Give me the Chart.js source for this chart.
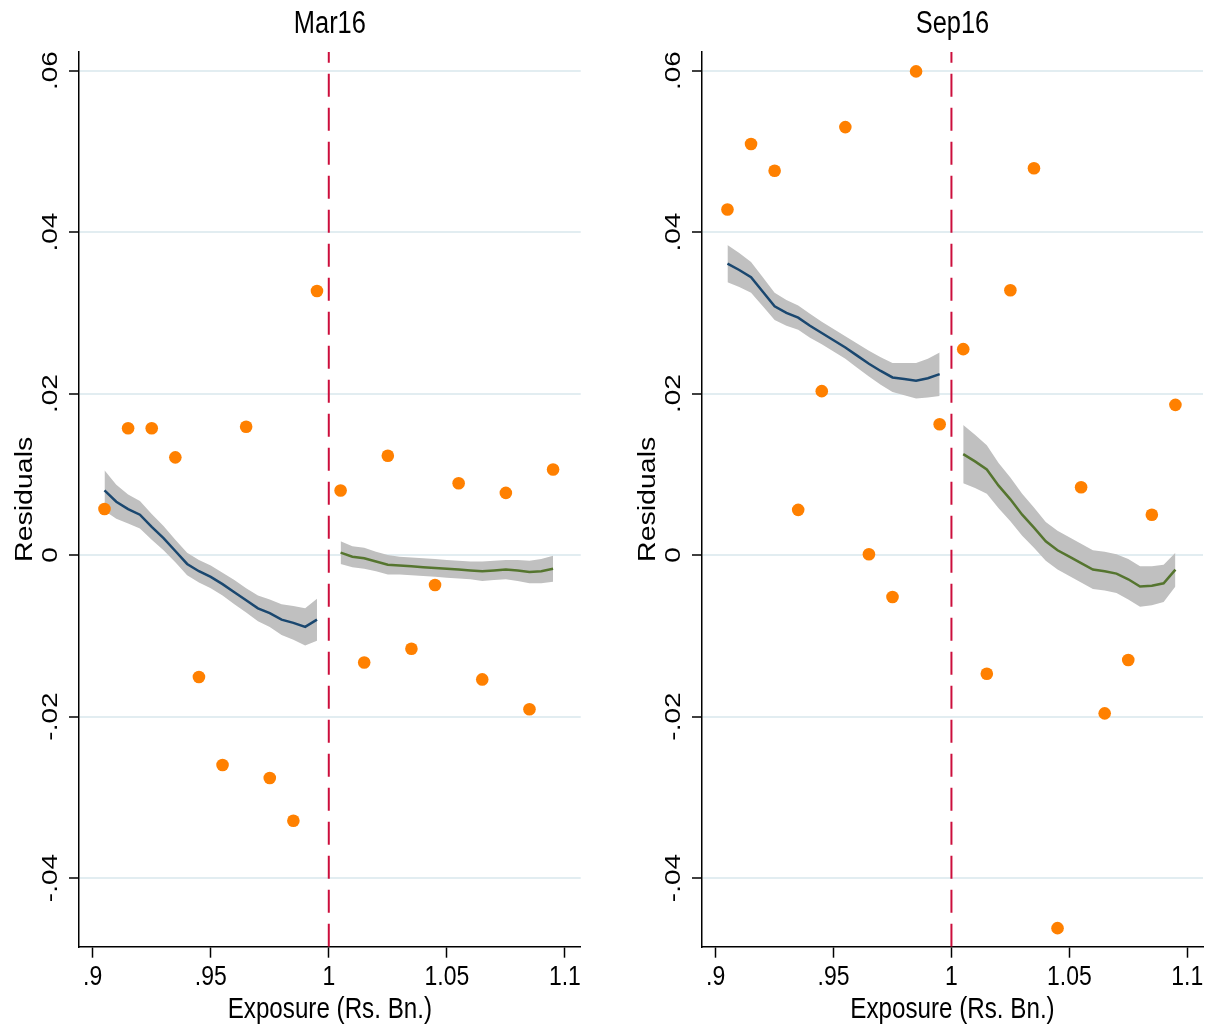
<!DOCTYPE html>
<html lang="en">
<head>
  <meta charset="UTF-8">
  <title>Residuals by Exposure</title>
  <script src="https://cdn.jsdelivr.net/npm/chart.js"></script>
  <style>
    body {
      margin: 0;
      background: #ffffff;
    }

    .panel {
      position: absolute;
      top: 0;
    }
  </style>
</head>
<body>

  <canvas id="mar16" class="panel" width="606" height="1025" style="left:0"></canvas>
  <canvas id="sep16" class="panel" width="606" height="1025" style="left:606px"></canvas>

  <script>
    // axis ticks
    const xTicks = [0.9, 0.95, 1, 1.05, 1.1];
    const xTickLabels = ['.9', '.95', '1', '1.05', '1.1'];
    const yTicks = [-0.04, -0.02, 0, 0.02, 0.04, 0.06];
    const yTickLabels = ['-.04', '-.02', '0', '.02', '.04', '.06'];
    const xMin = 0.8942, xMax = 1.1067;
    const yMin = -0.0485, yMax = 0.0623;
    const cutoff = 1;

    // binned residuals
    const binX = [0.905, 0.915, 0.925, 0.935, 0.945, 0.955, 0.965, 0.975, 0.985, 0.995,
                  1.005, 1.015, 1.025, 1.035, 1.045, 1.055, 1.065, 1.075, 1.085, 1.095];
    const mar16Resid = [0.0057, 0.0157, 0.0157, 0.0121, -0.0151, -0.0260, 0.0159, -0.0276, -0.0329, 0.0327,
                        0.0080, -0.0133, 0.0123, -0.0116, -0.0037, 0.0089, -0.0154, 0.0077, -0.0191, 0.0106];
    const sep16Resid = [0.0428, 0.0509, 0.0476, 0.0056, 0.0203, 0.0530, 0.0001, -0.0052, 0.0599, 0.0162,
                        0.0255, -0.0147, 0.0328, 0.0479, -0.0462, 0.0084, -0.0196, -0.0130, 0.0050, 0.0186];

    // local fits below / above cutoff
    const fitXBelow = [0.905, 0.910, 0.915, 0.920, 0.925, 0.930, 0.935, 0.940, 0.945, 0.950,
                       0.955, 0.960, 0.965, 0.970, 0.975, 0.980, 0.985, 0.990, 0.995];
    const fitXAbove = [1.005, 1.010, 1.015, 1.020, 1.025, 1.030, 1.035, 1.040, 1.045, 1.050,
                       1.055, 1.060, 1.065, 1.070, 1.075, 1.080, 1.085, 1.090, 1.095];

    const mar16FitBelow = [0.0080, 0.0066, 0.0057, 0.0050, 0.0035, 0.0021, 0.0005, -0.0011, -0.0020, -0.0027,
                           -0.0036, -0.0046, -0.0056, -0.0066, -0.0072, -0.0080, -0.0084, -0.0089, -0.0080];
    const mar16CiBelow = [0.0025, 0.0021, 0.0018, 0.0017, 0.0016, 0.0015, 0.0014, 0.0014, 0.0014, 0.0014,
                          0.0014, 0.0015, 0.0015, 0.0016, 0.0017, 0.0019, 0.0021, 0.0023, 0.0026];
    const mar16FitAbove = [0.0003, -0.0002, -0.0004, -0.0008, -0.0012, -0.0013, -0.0014, -0.0015, -0.0016, -0.0017,
                           -0.0018, -0.0019, -0.0020, -0.0019, -0.0018, -0.0019, -0.0021, -0.0020, -0.0017];
    const mar16CiAbove = [0.0014, 0.0013, 0.0013, 0.0012, 0.0012, 0.0011, 0.0011, 0.0011, 0.0011, 0.0011,
                          0.0011, 0.0011, 0.0012, 0.0012, 0.0012, 0.0013, 0.0014, 0.0015, 0.0016];

    const sep16FitBelow = [0.0361, 0.0353, 0.0344, 0.0326, 0.0308, 0.0300, 0.0294, 0.0284, 0.0275, 0.0266,
                           0.0257, 0.0247, 0.0237, 0.0228, 0.0220, 0.0218, 0.0216, 0.0219, 0.0224];
    const sep16CiBelow = [0.0023, 0.0021, 0.0019, 0.0018, 0.0017, 0.0016, 0.0015, 0.0015, 0.0014, 0.0014,
                          0.0014, 0.0015, 0.0016, 0.0017, 0.0018, 0.0020, 0.0022, 0.0024, 0.0027];
    const sep16FitAbove = [0.0125, 0.0116, 0.0106, 0.0086, 0.0069, 0.0050, 0.0034, 0.0017, 0.0006, -0.0002,
                           -0.0010, -0.0018, -0.0020, -0.0023, -0.0030, -0.0039, -0.0038, -0.0035, -0.0018];
    const sep16CiAbove = [0.0036, 0.0033, 0.0030, 0.0028, 0.0027, 0.0026, 0.0025, 0.0024, 0.0024, 0.0024,
                          0.0024, 0.0024, 0.0024, 0.0024, 0.0025, 0.0025, 0.0024, 0.0023, 0.0021];

    const ORANGE = '#ff8000';
    const NAVY = '#1a476f';
    const GREEN = '#55752f';
    const BAND = '#c0c0c0';
    const CUTLINE = '#cc0e3c';
    const FONT = "'Liberation Sans', Arial, sans-serif";
    const SQUEEZE = 0.82;

    function pts(xs, ys, shift) {
      return xs.map((x, i) => ({ x, y: ys[i] + (shift ? shift[i] : 0) }));
    }
    function neg(a) { return a.map(v => -v); }

    // draws the stata-like (horizontally squeezed) text
    const textPlugin = {
      id: 'stataText',
      afterDraw(chart, args, opts) {
        const ctx = chart.ctx;
        const area = chart.chartArea;
        const xs = chart.scales.x, ys = chart.scales.y;
        const mid = (area.left + area.right) / 2;
        ctx.save();
        ctx.fillStyle = '#000';
        ctx.textAlign = 'center';
        ctx.textBaseline = 'alphabetic';

        const hText = (txt, x, y, size) => {
          ctx.save();
          ctx.translate(x, y);
          ctx.scale(SQUEEZE, 1);
          ctx.font = size + 'px ' + FONT;
          ctx.fillText(txt, 0, 0);
          ctx.restore();
        };
        const vText = (txt, x, y, size) => {
          ctx.save();
          ctx.translate(x, y);
          ctx.scale(SQUEEZE, 1);
          ctx.rotate(-Math.PI / 2);
          ctx.font = size + 'px ' + FONT;
          ctx.fillText(txt, 0, 0);
          ctx.restore();
        };

        hText(opts.title, mid, 33, 31);
        xTicks.forEach((v, i) => hText(xTickLabels[i], xs.getPixelForValue(v), area.bottom + 38, 28));
        hText('Exposure (Rs. Bn.)', mid, 1018, 29.5);
        yTicks.forEach((v, i) => vText(yTickLabels[i], area.left - 22, ys.getPixelForValue(v), 28));
        vText('Residuals', area.left - 47.5, (area.top + area.bottom) / 2, 28.5);
        ctx.restore();
      }
    };

    function drawPanel(id, title, resid, fitB, ciB, fitA, ciA, padLeft, padRight) {
      const ctx = document.getElementById(id).getContext('2d');
      new Chart(ctx, {
        type: 'scatter',
        data: {
          datasets: [
            {
              label: 'Residuals',
              data: pts(binX, resid),
              backgroundColor: ORANGE,
              borderWidth: 0,
              pointRadius: 6.3
            },
            {
              label: 'Fit below',
              data: pts(fitXBelow, fitB),
              showLine: true,
              borderColor: NAVY,
              borderWidth: 2.5,
              pointRadius: 0
            },
            {
              label: 'Fit above',
              data: pts(fitXAbove, fitA),
              showLine: true,
              borderColor: GREEN,
              borderWidth: 2.5,
              pointRadius: 0
            },
            {
              label: 'Cutoff',
              data: [{ x: cutoff, y: yMin }, { x: cutoff, y: yMax }],
              showLine: true,
              borderColor: CUTLINE,
              borderWidth: 2,
              borderDash: [23, 11],
              pointRadius: 0
            },
            {
              label: 'CI below low',
              data: pts(fitXBelow, fitB, neg(ciB)),
              showLine: true,
              borderWidth: 0,
              borderColor: 'rgba(0,0,0,0)',
              pointRadius: 0
            },
            {
              label: 'CI below high',
              data: pts(fitXBelow, fitB, ciB),
              showLine: true,
              borderWidth: 0,
              borderColor: 'rgba(0,0,0,0)',
              backgroundColor: BAND,
              fill: 4,
              pointRadius: 0
            },
            {
              label: 'CI above low',
              data: pts(fitXAbove, fitA, neg(ciA)),
              showLine: true,
              borderWidth: 0,
              borderColor: 'rgba(0,0,0,0)',
              pointRadius: 0
            },
            {
              label: 'CI above high',
              data: pts(fitXAbove, fitA, ciA),
              showLine: true,
              borderWidth: 0,
              borderColor: 'rgba(0,0,0,0)',
              backgroundColor: BAND,
              fill: 6,
              pointRadius: 0
            }
          ]
        },
        options: {
          responsive: false,
          animation: false,
          layout: { padding: { left: padLeft, right: padRight, top: 52, bottom: 78.3 } },
          plugins: {
            legend: { display: false },
            tooltip: { enabled: false },
            stataText: { title }
          },
          scales: {
            x: {
              type: 'linear',
              min: xMin,
              max: xMax,
              afterBuildTicks: s => { s.ticks = xTicks.map(v => ({ value: v })); },
              afterFit: s => { s.height = 0; },
              ticks: { display: false },
              grid: { drawOnChartArea: false, drawTicks: true, tickLength: 11, color: '#000', tickWidth: 1.5 },
              border: { display: true, color: '#000', width: 1.5 }
            },
            y: {
              type: 'linear',
              min: yMin,
              max: yMax,
              afterBuildTicks: s => { s.ticks = yTicks.map(v => ({ value: v })); },
              afterFit: s => { s.width = 0; },
              ticks: { display: false },
              grid: { color: '#e2edf1', lineWidth: 2, tickLength: 10, tickColor: '#000', tickWidth: 1.5 },
              border: { display: true, color: '#000', width: 1.5 }
            }
          }
        },
        plugins: [textPlugin]
      });
    }

    drawPanel('mar16', 'Mar16', mar16Resid, mar16FitBelow, mar16CiBelow, mar16FitAbove, mar16CiAbove, 79, 25.3);
    drawPanel('sep16', 'Sep16', sep16Resid, sep16FitBelow, sep16CiBelow, sep16FitAbove, sep16CiAbove, 96, 9);
  </script>

</body>
</html>
